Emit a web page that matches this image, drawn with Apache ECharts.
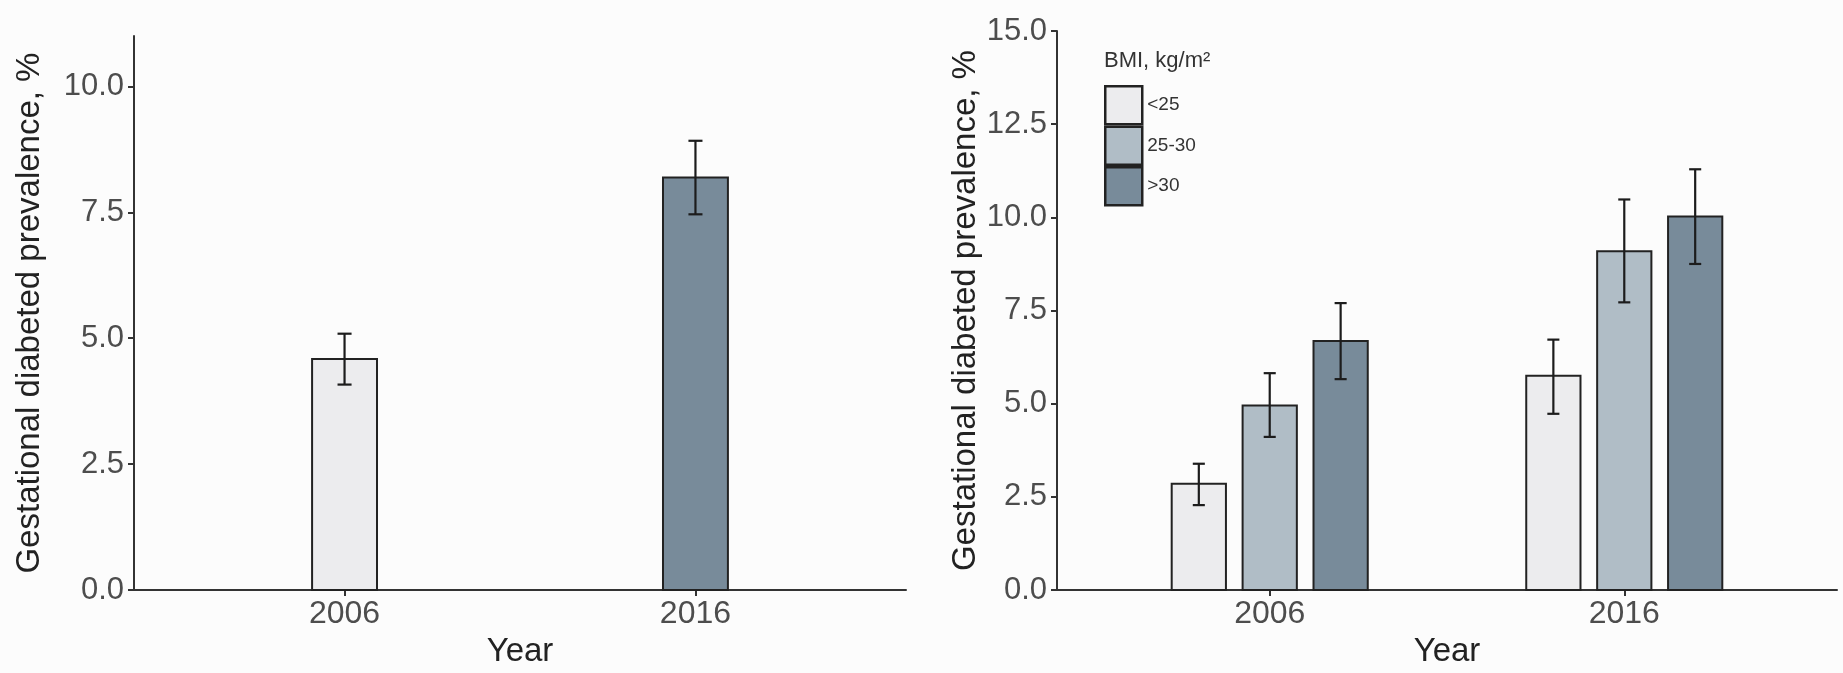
<!DOCTYPE html>
<html><head><meta charset="utf-8">
<script src="https://cdn.jsdelivr.net/npm/echarts@6/dist/echarts.min.js"></script>
<style>html,body{margin:0;padding:0;background:#fcfcfc}#c{width:1843px;height:673px}</style>
</head><body><div id="c"></div>
<script>
// ---- data ----
const years = ['2006', '2016'];
const yTicksLeft = [0, 2.5, 5, 7.5, 10];
const yTicksRight = [0, 2.5, 5, 7.5, 10, 12.5, 15];

const overallPrev = [4.59, 8.19];
const overallLow = [4.08, 7.46];
const overallHigh = [5.09, 8.92];

const bmiGroups = ['<25', '25-30', '>30'];
const bmiUnder25 = [2.85, 5.75];
const bmiUnder25Low = [2.28, 4.73];
const bmiUnder25High = [3.39, 6.72];
const bmi25to30 = [4.95, 9.09];
const bmi25to30Low = [4.11, 7.72];
const bmi25to30High = [5.82, 10.48];
const bmiOver30 = [6.68, 10.02];
const bmiOver30Low = [5.66, 8.75];
const bmiOver30High = [7.70, 11.29];

// ---- styles ----
const FILL = ['#ececee', '#b0bdc6', '#788b9a'];
const STROKE = '#222222';
const FONT = 'Liberation Sans';

function barRender(offset, w, colorFn) {
  return function (params, api) {
    const x = api.value(0) + offset;
    const v = api.value(1);
    const p0 = api.coord([x - w / 2, v]);
    const p1 = api.coord([x + w / 2, 0]);
    return {
      type: 'rect',
      shape: { x: p0[0], y: p0[1], width: p1[0] - p0[0], height: p1[1] - p0[1] },
      style: { fill: colorFn(params.dataIndex), stroke: STROKE, lineWidth: 2 }
    };
  };
}
function errRender(offset, cap) {
  return function (params, api) {
    const x = api.value(0) + offset;
    const lo = api.coord([x, api.value(1)]);
    const hi = api.coord([x, api.value(2)]);
    const c0 = api.coord([x - cap / 2, api.value(1)]);
    const c1 = api.coord([x + cap / 2, api.value(1)]);
    const st = { stroke: '#1c1c1c', lineWidth: 2.2 };
    return {
      type: 'group', children: [
        { type: 'line', shape: { x1: lo[0], y1: lo[1], x2: hi[0], y2: hi[1] }, style: st },
        { type: 'line', shape: { x1: c0[0], y1: lo[1], x2: c1[0], y2: lo[1] }, style: st },
        { type: 'line', shape: { x1: c0[0], y1: hi[1], x2: c1[0], y2: hi[1] }, style: st }
      ]
    };
  };
}
const toBar = vals => vals.map((v, i) => [i + 1, v]);
const toErr = (lo, hi) => lo.map((v, i) => [i + 1, v, hi[i]]);

function xAxis(gridIndex, gap) {
  return {
    gridIndex, type: 'value', min: 0.4, max: 2.6,
    axisLine: { show: true, onZero: false, lineStyle: { color: '#333', width: 2 } },
    axisTick: { show: true, customValues: [1, 2], length: 6, lineStyle: { color: '#333', width: 2 } },
    axisLabel: { customValues: [1, 2], formatter: v => years[Math.round(v) - 1], fontSize: 32, color: '#4d4d4d', margin: 8, fontFamily: FONT },
    splitLine: { show: false },
    name: 'Year', nameLocation: 'middle', nameGap: gap,
    nameTextStyle: { fontSize: 33, color: '#222', fontFamily: FONT }
  };
}
function yAxis(gridIndex, max, ticks, gap) {
  return {
    gridIndex, type: 'value', min: 0, max: max,
    axisLine: { show: true, onZero: false, lineStyle: { color: '#333', width: 2 } },
    axisTick: { show: true, customValues: ticks, length: 6, lineStyle: { color: '#333', width: 2 } },
    axisLabel: { customValues: ticks, formatter: v => v.toFixed(1), fontSize: 31, color: '#4d4d4d', margin: 10, fontFamily: FONT },
    splitLine: { show: false },
    name: 'Gestational diabeted prevalence, %', nameLocation: 'middle', nameGap: gap, nameRotate: 90,
    nameTextStyle: { fontSize: 33, color: '#222', fontFamily: FONT }
  };
}

const chart = echarts.init(document.getElementById('c'), null, { renderer: 'canvas' });
const RW = 0.153, ROFF = 0.2;
chart.setOption({
  backgroundColor: '#fcfcfc',
  animation: false,
  textStyle: { fontFamily: FONT },
  grid: [
    { left: 134, top: 36, width: 772, height: 562 },
    { left: 1057, top: 31, width: 780, height: 565 }
  ],
  xAxis: [xAxis(0, 37), xAxis(1, 39)],
  yAxis: [yAxis(0, 11, yTicksLeft, 88), yAxis(1, 15, yTicksRight, 74)],
  legend: {
    orient: 'vertical', left: 1104, top: 85, padding: 0, itemWidth: 37, itemHeight: 38, itemGap: 0,
    icon: 'rect', selectedMode: false,
    textStyle: { fontSize: 19, color: '#333', fontFamily: FONT },
    data: bmiGroups.map((g, i) => ({ name: g, itemStyle: { color: FILL[i], borderColor: STROKE, borderWidth: 2.5 } }))
  },
  graphic: [{
    type: 'text', left: 1104, top: 50,
    style: { text: 'BMI, kg/m²', fontSize: 22, fill: '#333', fontFamily: FONT }
  }],
  series: [
    { type: 'custom', name: 'overall', xAxisIndex: 0, yAxisIndex: 0, data: toBar(overallPrev),
      renderItem: barRender(0, 0.185, i => (i === 0 ? FILL[0] : FILL[2])) },
    { type: 'custom', name: 'overall-err', xAxisIndex: 0, yAxisIndex: 0, data: toErr(overallLow, overallHigh),
      renderItem: errRender(0, 0.04) },
    { type: 'custom', name: bmiGroups[0], xAxisIndex: 1, yAxisIndex: 1, itemStyle: { color: FILL[0] }, data: toBar(bmiUnder25),
      renderItem: barRender(-ROFF, RW, () => FILL[0]) },
    { type: 'custom', name: bmiGroups[1], xAxisIndex: 1, yAxisIndex: 1, itemStyle: { color: FILL[1] }, data: toBar(bmi25to30),
      renderItem: barRender(0, RW, () => FILL[1]) },
    { type: 'custom', name: bmiGroups[2], xAxisIndex: 1, yAxisIndex: 1, itemStyle: { color: FILL[2] }, data: toBar(bmiOver30),
      renderItem: barRender(ROFF, RW, () => FILL[2]) },
    { type: 'custom', name: 'e1', xAxisIndex: 1, yAxisIndex: 1, data: toErr(bmiUnder25Low, bmiUnder25High), renderItem: errRender(-ROFF, 0.034) },
    { type: 'custom', name: 'e2', xAxisIndex: 1, yAxisIndex: 1, data: toErr(bmi25to30Low, bmi25to30High), renderItem: errRender(0, 0.034) },
    { type: 'custom', name: 'e3', xAxisIndex: 1, yAxisIndex: 1, data: toErr(bmiOver30Low, bmiOver30High), renderItem: errRender(ROFF, 0.034) }
  ]
});
</script>
</body></html>
